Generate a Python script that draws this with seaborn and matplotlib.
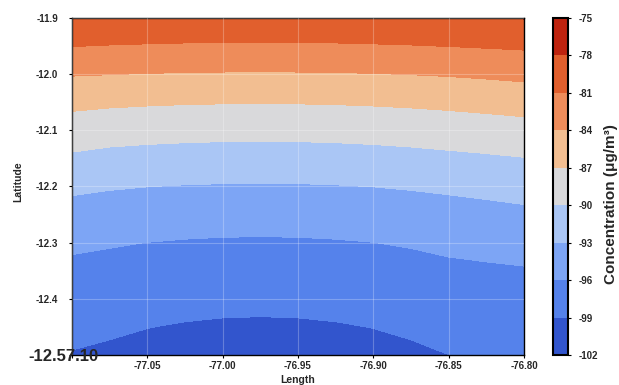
import matplotlib
matplotlib.use("Agg")
import matplotlib.pyplot as plt
import seaborn as sns

# Grid of longitudes (columns) and latitudes (rows)
longitude = [-77.100, -77.075, -77.050, -77.025, -77.000, -76.975, -76.950,
             -76.925, -76.900, -76.875, -76.850, -76.825, -76.800]
latitude = [-11.90, -11.95, -12.00, -12.05, -12.10, -12.15, -12.20,
            -12.25, -12.30, -12.35, -12.40, -12.45, -12.50]

# Concentration (ug/m3), one row per latitude
row_1190 = [-78.20, -78.36, -78.47, -78.54, -78.59, -78.60, -78.59, -78.54, -78.47, -78.36, -78.23, -78.07, -77.90]
row_1195 = [-80.95, -81.11, -81.22, -81.31, -81.35, -81.37, -81.35, -81.31, -81.22, -81.11, -80.96, -80.79, -80.62]
row_1200 = [-83.83, -83.95, -84.08, -84.17, -84.22, -84.24, -84.22, -84.17, -84.08, -83.95, -83.79, -83.56, -83.30]
row_1205 = [-86.31, -86.55, -86.70, -86.81, -86.87, -86.89, -86.87, -86.81, -86.70, -86.55, -86.36, -86.12, -85.85]
row_1210 = [-88.44, -88.78, -88.96, -89.08, -89.16, -89.18, -89.16, -89.08, -88.96, -88.78, -88.56, -88.33, -88.08]
row_1215 = [-90.45, -90.84, -91.03, -91.17, -91.25, -91.28, -91.25, -91.17, -91.03, -90.84, -90.59, -90.35, -90.08]
row_1220 = [-92.47, -92.78, -92.98, -93.12, -93.20, -93.23, -93.20, -93.12, -92.98, -92.78, -92.53, -92.25, -91.95]
row_1225 = [-94.09, -94.39, -94.60, -94.74, -94.83, -94.86, -94.83, -94.74, -94.60, -94.39, -94.13, -93.87, -93.59]
row_1230 = [-95.56, -95.80, -96.02, -96.18, -96.28, -96.31, -96.28, -96.18, -96.02, -95.80, -95.51, -95.27, -95.00]
row_1235 = [-96.60, -96.79, -97.04, -97.22, -97.32, -97.36, -97.32, -97.22, -97.04, -96.79, -96.47, -96.34, -96.20]
row_1240 = [-97.46, -97.78, -98.06, -98.25, -98.37, -98.41, -98.37, -98.25, -98.06, -97.78, -97.43, -97.15, -96.85]
row_1245 = [-98.31, -98.66, -98.96, -99.17, -99.30, -99.34, -99.30, -99.17, -98.96, -98.66, -98.28, -97.86, -97.40]
row_1250 = [-99.15, -99.40, -99.71, -99.93, -100.06, -100.10, -100.06, -99.93, -99.71, -99.40, -99.01, -98.52, -97.96]
concentration = [row_1190, row_1195, row_1200, row_1205, row_1210, row_1215,
                 row_1220, row_1225, row_1230, row_1235, row_1240, row_1245,
                 row_1250]

levels = [-102, -99, -96, -93, -90, -87, -84, -81, -78, -75]
band_colors = ["#3255cd", "#5582eb", "#7da5f5", "#aac6f5", "#d9d9db",
               "#f2be91", "#ee8c5a", "#e15f2d", "#be230f"]

x_ticks = [-77.10, -77.05, -77.00, -76.95, -76.90, -76.85, -76.80]
x_tick_labels = ["", "-77.05", "-77.00", "-76.95", "-76.90", "-76.85", "-76.80"]
y_ticks = [-12.5, -12.4, -12.3, -12.2, -12.1, -12.0, -11.9]
y_tick_labels = ["", "-12.4", "-12.3", "-12.2", "-12.1", "-12.0", "-11.9"]
corner_label = "-12.57.10"

sns.set_theme(style="white")
plt.rcParams["font.family"] = ["Liberation Sans", "DejaVu Sans"]
plt.rcParams["axes.unicode_minus"] = False

fig = plt.figure(figsize=(6.19, 3.85), dpi=100)
ax = fig.add_axes([72 / 619, 1 - 355 / 385, 452 / 619, 337 / 385])
cax = fig.add_axes([553 / 619, 1 - 355 / 385, 15 / 619, 337 / 385])

cs = ax.contourf(longitude, latitude, concentration, levels=levels,
                 colors=sns.color_palette(band_colors))

ax.set_xlim(-77.10, -76.80)
ax.set_ylim(-12.5, -11.9)
ax.set_xticks(x_ticks)
ax.set_xticklabels(x_tick_labels, fontsize=7, fontweight="bold")
ax.set_yticks(y_ticks)
ax.set_yticklabels(y_tick_labels, fontsize=7, fontweight="bold")
ax.tick_params(axis="both", which="both", length=2, width=0.8, color="black",
               bottom=True, left=True)
ax.tick_params(axis="x", pad=2)
ax.tick_params(axis="y", pad=8)
ax.grid(True, color="white", alpha=0.25, linewidth=0.8)
ax.set_axisbelow(False)
for sp in ax.spines.values():
    sp.set_color("black")
    sp.set_linewidth(1.0)

fig.text(298 / 619, 1 - 380 / 385, "Length", ha="center", va="center",
         fontsize=7.5, fontweight="bold")
fig.text(18 / 619, 1 - 182 / 385, "Latitude", ha="center", va="center",
         rotation=90, fontsize=7.5, fontweight="bold")
fig.text(63.5 / 619, 1 - 356.5 / 385, corner_label, ha="center", va="center",
         fontsize=12, fontweight="bold")

cbar = fig.colorbar(cs, cax=cax, ticks=levels)
cbar.outline.set_linewidth(1.5)
cbar.outline.set_edgecolor("black")
cax.tick_params(length=2, width=0.8, color="black", pad=6, right=True)
for lbl in cax.get_yticklabels():
    lbl.set_fontsize(7)
    lbl.set_fontweight("bold")
fig.text(611 / 619, 1 - 204 / 385, "Concentration (\u03bcg/m\u00b3)", ha="center",
         va="center", rotation=90, fontsize=11, fontweight="bold")

fig.savefig("out.png", dpi=100)
